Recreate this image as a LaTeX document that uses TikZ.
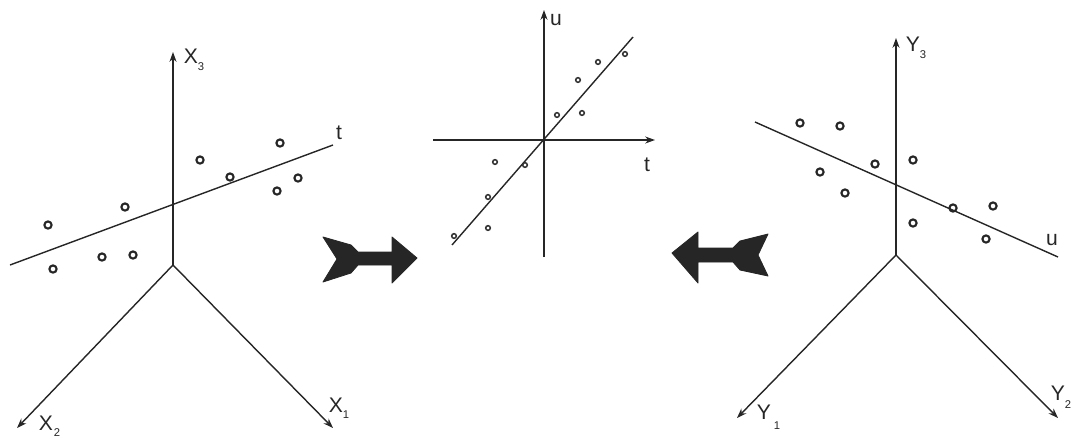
\documentclass[tikz,border=0pt]{standalone}
\usepackage{fontspec}
\setmainfont{Liberation Sans}
\usetikzlibrary{arrows.meta}
\tikzset{
  axis/.style={draw=black!85, line width=1pt, -{Stealth[length=7pt,width=5pt]}},
  fitline/.style={draw=black!85, line width=1pt},
  pt/.style={draw=black!85, line width=1.5pt, fill=none},
  spt/.style={draw=black!80, line width=1.1pt, fill=none},
  lab/.style={inner sep=0pt, font=\fontsize{15}{17}\selectfont, text=black!85},
  sub/.style={inner sep=0pt, font=\fontsize{8}{9}\selectfont, text=black!85},
  blockarrow/.style={fill=black!85, draw=black!85, line width=0.6pt, line join=round}
}
\begin{document}
\begin{tikzpicture}[x=0.025cm,y=-0.025cm]
\useasboundingbox (0,0) rectangle (1073,441);
% ---------- left panel ----------
\coordinate (LO) at (173,265);
\coordinate (LX3) at (173,52);
\coordinate (LX1) at (333,428);
\coordinate (LX2) at (17,428);
\coordinate (Lt1) at (10,265);
\coordinate (Lt2) at (333,145);
\draw[axis] (LO) -- (LX3);
\draw[axis] (LO) -- (LX1);
\draw[axis] (LO) -- (LX2);
\draw[fitline] (Lt1) -- (Lt2);
\node[lab] (lx3) at (191,56) {X};
\node[sub] (lx3s) at (201,67) {3};
\node[lab] (lx1) at (336,405) {X};
\node[sub] (lx1s) at (346,415) {1};
\node[lab] (lx2) at (46,423) {X};
\node[sub] (lx2s) at (57,433) {2};
\node[lab] (lt) at (339,133) {t};
\foreach \p/\q [count=\i] in {48/225,125/207,53/269,102/257,133/255,200/160,230/177,280/143,277/191,298/178}
  \draw[pt] (\p,\q) circle (3.6);
% ---------- middle panel ----------
\coordinate (MO) at (544,140);
\coordinate (Mh1) at (433,140);
\coordinate (Mh2) at (655,140);
\coordinate (Mv1) at (544,257);
\coordinate (Mv2) at (544,10);
\coordinate (Ml1) at (452,245);
\coordinate (Ml2) at (633,37);
\draw[axis] (Mh1) -- (Mh2);
\draw[axis] (Mv1) -- (Mv2);
\draw[fitline] (Ml1) -- (Ml2);
\node[lab] (mu) at (556,20) {u};
\node[lab] (mt) at (647,165) {t};
\foreach \p/\q in {454/236,488/228,488/197,495/162,525/165,557/115,582/113,578/80,598/62,625/54}
  \draw[spt] (\p,\q) circle (2.3);
% ---------- right panel ----------
\coordinate (RO) at (896,255);
\coordinate (RY3) at (896,38);
\coordinate (RY1) at (737,418);
\coordinate (RY2) at (1058,418);
\coordinate (Ru1) at (755,122);
\coordinate (Ru2) at (1058,257);
\draw[axis] (RO) -- (RY3);
\draw[axis] (RO) -- (RY1);
\draw[axis] (RO) -- (RY2);
\draw[fitline] (Ru1) -- (Ru2);
\node[lab] (ry3) at (913,44) {Y};
\node[sub] (ry3s) at (923,55) {3};
\node[lab] (ry1) at (764,412) {Y};
\node[sub] (ry1s) at (777,426) {1};
\node[lab] (ry2) at (1058,393) {Y};
\node[sub] (ry2s) at (1068,405) {2};
\node[lab] (ru) at (1052,240) {u};
\foreach \p/\q in {800/123,840/126,820/172,845/193,875/164,913/160,913/223,953/208,993/206,986/239}
  \draw[pt] (\p,\q) circle (3.6);
% ---------- block arrows ----------
\draw[blockarrow] (323,237) -- (351,245) -- (358,252) -- (392,252) -- (392,237) -- (417,258)
  -- (392,283) -- (392,265) -- (358,265) -- (351,273) -- (323,282) -- (337,259) -- cycle;
\draw[blockarrow] (672,253) -- (698,232) -- (698,248) -- (733,248) -- (740,241) -- (768,234)
  -- (758,255) -- (768,276) -- (740,270) -- (733,262) -- (698,262) -- (698,283) -- cycle;
\end{tikzpicture}
\end{document}
